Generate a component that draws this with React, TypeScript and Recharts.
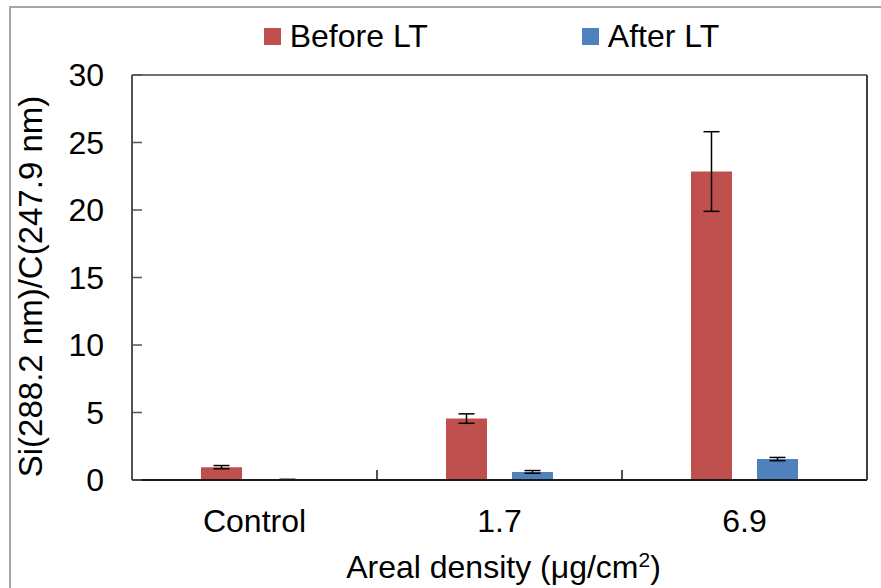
import { BarChart, Bar, XAxis, YAxis, ErrorBar, Legend, Label } from 'recharts';

// values
const categories = ['Control', '1.7', '6.9'];
const beforeLT = [0.95, 4.55, 22.85];
const beforeErr = [0.12, 0.35, 2.95];
const afterLT = [0.03, 0.6, 1.55];
const afterErr = [0.02, 0.1, 0.12];
const yTicks = [0, 5, 10, 15, 20, 25, 30];

const data = categories.map((name, i) => ({
  name,
  before: beforeLT[i],
  beforeErr: beforeErr[i],
  after: afterLT[i],
  afterErr: afterErr[i],
}));

const FONT = '"Liberation Sans", Arial, sans-serif';
const RED = '#C0504D';
const BLUE = '#4F81BD';
const AXIS = '#1a1a1a';
const BOX = '#404040';
const X_TICK_MARGIN = 29;

const legendItems = [
  { label: 'Before LT', color: RED },
  { label: 'After LT', color: BLUE },
];

function LegendContent() {
  return (
    <div style={{ display: 'flex', justifyContent: 'center', paddingLeft: 102, gap: 154, fontFamily: FONT }}>
      {legendItems.map((it) => (
        <div key={it.label} style={{ display: 'flex', alignItems: 'center', fontSize: 32, color: '#000', lineHeight: '36px' }}>
          <span style={{ display: 'inline-block', width: 17, height: 17, background: it.color, marginRight: 9 }} />
          {it.label}
        </div>
      ))}
    </div>
  );
}

// category label plus the small upward tick at the left edge of the category band
function CategoryTick(props: any) {
  const { x, y, payload, width, visibleTicksCount } = props;
  const band = width / visibleTicksCount;
  const edge = x - band / 2;
  const axisY = y - X_TICK_MARGIN;
  return (
    <g>
      <text x={x} y={y} dy="0.71em" textAnchor="middle" fontSize={32} fill="#000" fontFamily={FONT}>
        {payload.value}
      </text>
      {payload.index > 0 && <line x1={edge} x2={edge} y1={axisY} y2={axisY - 10} stroke={AXIS} strokeWidth={1.5} />}
    </g>
  );
}

const hideTick = () => <g />;

export default function App() {
  return (
    <div style={{ position: 'absolute', left: 0, top: 0, width: 881, height: 588, background: '#fff', overflow: 'hidden' }}>
      <div
        style={{
          position: 'absolute',
          left: 9,
          top: 6,
          width: 900,
          height: 600,
          borderTop: '2px solid #a6a6a6',
          borderLeft: '2px solid #a6a6a6',
        }}
      />
      <BarChart
        width={881}
        height={588}
        data={data}
        margin={{ top: 74, right: 13, bottom: 0, left: 0 }}
        barSize={41}
        barGap={25}
        style={{ fontFamily: FONT, position: 'absolute', left: 0, top: 0 }}
      >
        <XAxis
          dataKey="name"
          height={108}
          tickLine={false}
          tickSize={0}
          tickMargin={X_TICK_MARGIN}
          axisLine={{ stroke: AXIS, strokeWidth: 2 }}
          tick={CategoryTick}
        >
          <Label
            content={(props: any) => {
              const vb = props.viewBox;
              return (
                <text x={vb.x + vb.width / 2 + 4} y={vb.y + 98} textAnchor="middle" fontSize={32} fill="#000" fontFamily={FONT}>
                  Areal density (μg/cm
                  <tspan dy={-11} fontSize={21}>2</tspan>
                  <tspan dy={11}>)</tspan>
                </text>
              );
            }}
          />
        </XAxis>
        <XAxis xAxisId="top" dataKey="name" orientation="top" height={1} tick={false} tickLine={false} axisLine={{ stroke: BOX, strokeWidth: 1.5 }} />
        <YAxis
          width={132}
          domain={[0, 30]}
          ticks={yTicks}
          tickLine={false}
          tickSize={0}
          tickMargin={28}
          axisLine={{ stroke: AXIS, strokeWidth: 1.5 }}
          tick={{ fill: '#000', fontSize: 32 }}
        >
          <Label
            content={(props: any) => {
              const vb = props.viewBox;
              const cy = vb.y + vb.height / 2 + 9;
              return (
                <text x={0} y={0} transform={`translate(42, ${cy}) rotate(-90)`} textAnchor="middle" fontSize={33} fill="#000" fontFamily={FONT}>
                  Si(288.2 nm)/C(247.9 nm)
                </text>
              );
            }}
          />
        </YAxis>
        <YAxis
          yAxisId="ticks"
          dataKey="before"
          domain={[0, 30]}
          allowDataOverflow
          ticks={yTicks}
          mirror
          width={1}
          tickSize={10}
          tick={hideTick}
          axisLine={false}
          tickLine={{ stroke: '#555', strokeWidth: 1.5 }}
        />
        <YAxis yAxisId="right" orientation="right" width={1} domain={[0, 30]} tick={false} tickLine={false} axisLine={{ stroke: BOX, strokeWidth: 2 }} />
        <Legend verticalAlign="middle" align="center" wrapperStyle={{ top: 18, left: 0, width: 881 }} content={LegendContent} />
        <Bar dataKey="before" name="Before LT" fill={RED} isAnimationActive={false}>
          <ErrorBar dataKey="beforeErr" width={8} stroke="#000" strokeWidth={1.5} direction="y" isAnimationActive={false} />
        </Bar>
        <Bar dataKey="after" name="After LT" fill={BLUE} isAnimationActive={false}>
          <ErrorBar dataKey="afterErr" width={8} stroke="#000" strokeWidth={1.5} direction="y" isAnimationActive={false} />
        </Bar>
      </BarChart>
    </div>
  );
}
